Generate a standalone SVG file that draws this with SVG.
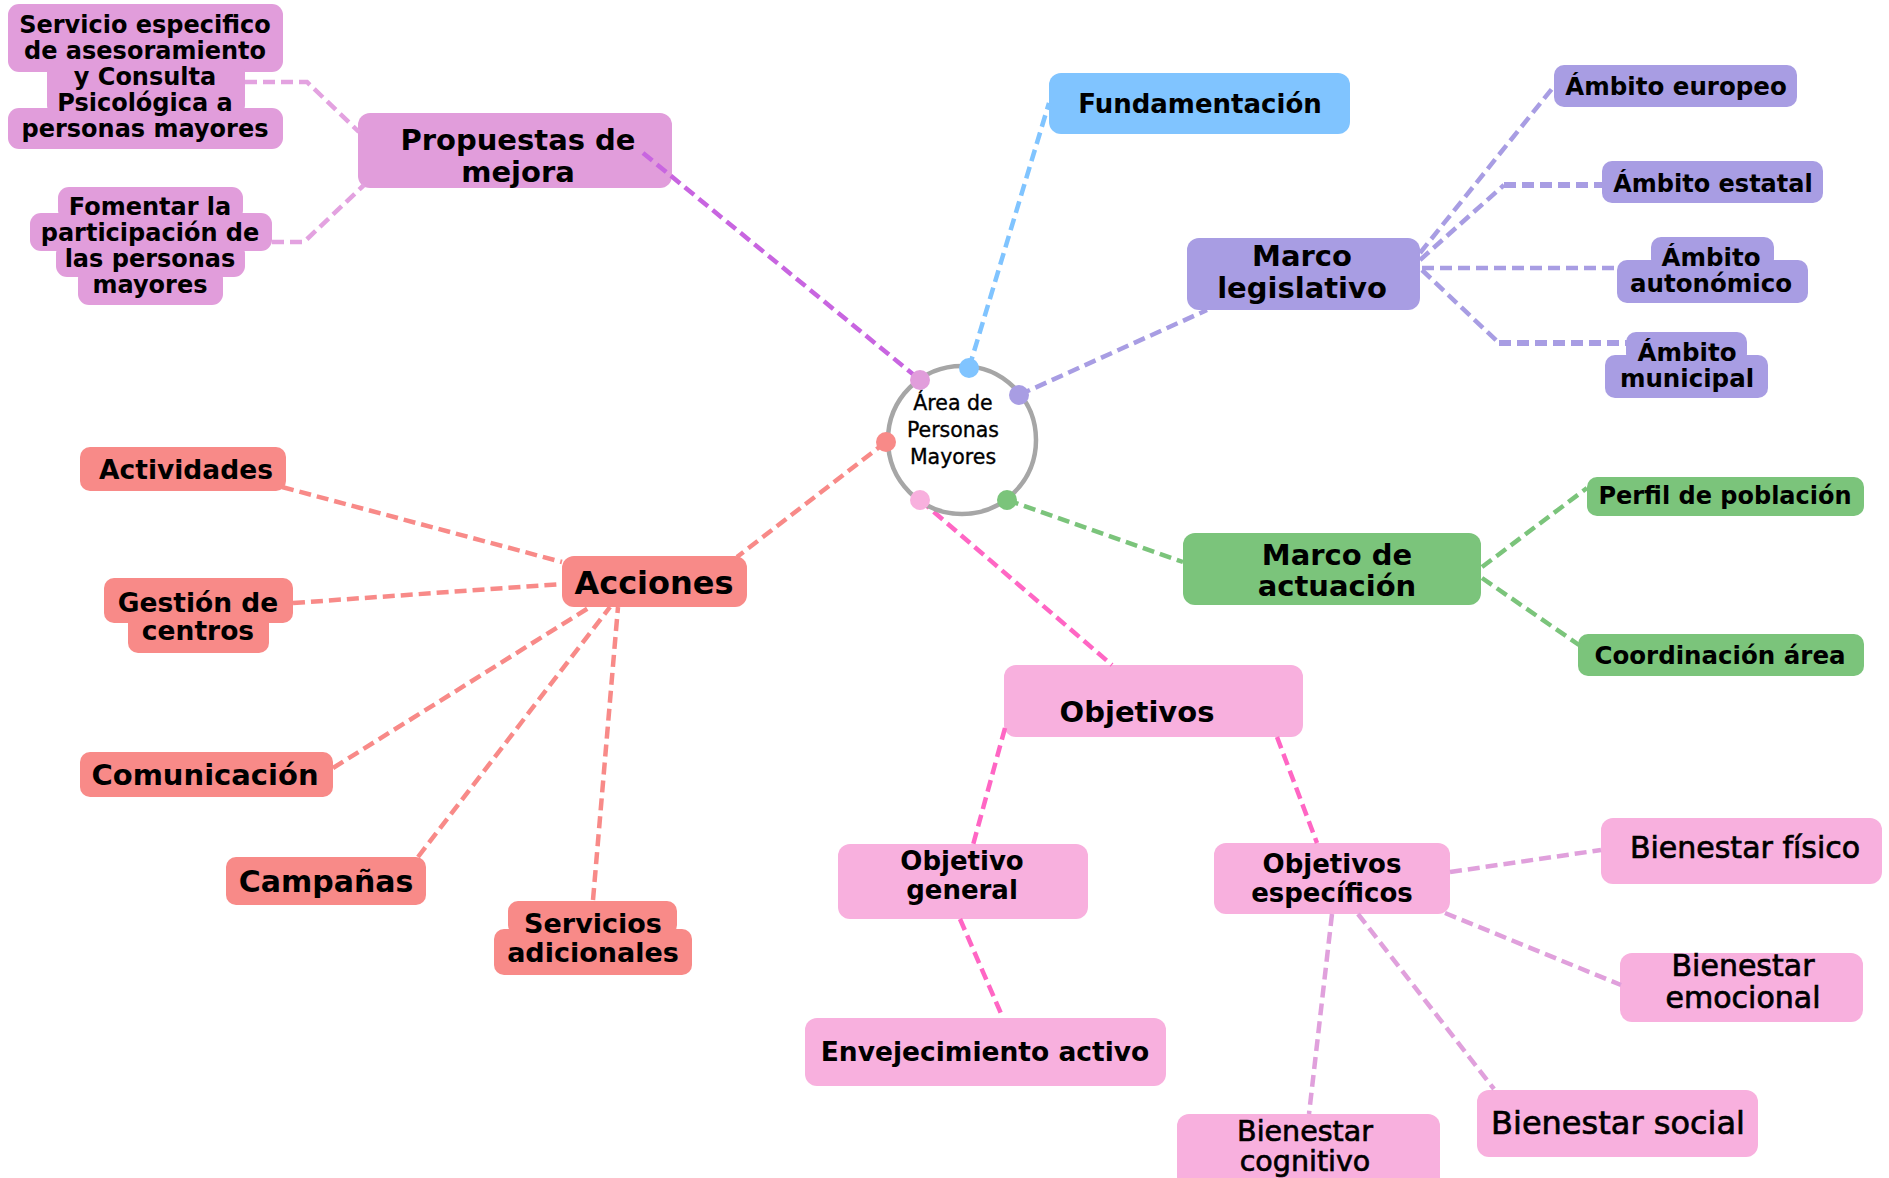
<svg xmlns="http://www.w3.org/2000/svg" width="1889" height="1178" viewBox="0 0 1889 1178">
<style>
text{font-family:"DejaVu Sans","Liberation Sans",sans-serif;font-weight:bold;fill:#000;text-anchor:middle}
text.md{font-weight:normal;stroke:#000;stroke-width:0.7}
text.ct{font-weight:normal;font-size:20.5px;stroke:#000;stroke-width:0.35}
.c{fill:none;stroke-width:4.5;stroke-dasharray:12 6}
.th{stroke-width:6}
.orc{fill:#e19ddb}.blu{fill:#80c4ff}.pur{fill:#a89de3}.grn{fill:#7bc47b}.red{fill:#f88a88}.pnk{fill:#f8b0de}
.lorc{stroke:#e3a2e0}.lblu{stroke:#80c4ff}.lpur{stroke:#a89de3}.lgrn{stroke:#7bc47b}.lred{stroke:#f88a88}.lhot{stroke:#ff66c4}.lvio{stroke:#c865e0}.lbie{stroke:#e0a0dc}
</style>
<rect width="1889" height="1178" fill="#fff"/>

<g id="node-propuestas">
<rect class="orc" x="358" y="113" width="314" height="75" rx="12"/>
<text x="518" y="150" font-size="29">Propuestas de</text>
<text x="518" y="182" font-size="29">mejora</text>
</g>
<g id="node-servicio">
<rect class="orc" x="8" y="4" width="275" height="68" rx="11"/>
<rect class="orc" x="47" y="60" width="198" height="56" rx="11"/>
<rect class="orc" x="8" y="108" width="275" height="41" rx="11"/>
<text x="145" y="33" font-size="24">Servicio especifico</text>
<text x="145" y="59" font-size="24">de asesoramiento</text>
<text x="145" y="85" font-size="24">y Consulta</text>
<text x="145" y="111" font-size="24">Psicológica a</text>
<text x="145" y="137" font-size="24">personas mayores</text>
</g>
<g id="node-fomentar">
<rect class="orc" x="58" y="187" width="185" height="34" rx="11"/>
<rect class="orc" x="30" y="213" width="242" height="38" rx="11"/>
<rect class="orc" x="56" y="243" width="189" height="34" rx="11"/>
<rect class="orc" x="78" y="268" width="145" height="37" rx="11"/>
<text x="150" y="215" font-size="24">Fomentar la</text>
<text x="150" y="241" font-size="24">participación de</text>
<text x="150" y="267" font-size="24">las personas</text>
<text x="150" y="293" font-size="24">mayores</text>
</g>
<g id="node-fundamentacion">
<rect class="blu" x="1049" y="73" width="301" height="61" rx="12"/>
<text x="1200" y="113" font-size="26">Fundamentación</text>
</g>
<g id="node-marco-legislativo">
<rect class="pur" x="1187" y="238" width="233" height="72" rx="12"/>
<text x="1302" y="266" font-size="29">Marco</text>
<text x="1302" y="298" font-size="29">legislativo</text>
</g>
<g id="node-ambito-europeo">
<rect class="pur" x="1554" y="65" width="243" height="42" rx="10"/>
<text x="1676" y="95" font-size="24.5">Ámbito europeo</text>
</g>
<g id="node-ambito-estatal">
<rect class="pur" x="1602" y="161" width="221" height="42" rx="10"/>
<text x="1713" y="192" font-size="24">Ámbito estatal</text>
</g>
<g id="node-ambito-autonomico">
<rect class="pur" x="1651" y="237" width="123" height="32" rx="10"/>
<rect class="pur" x="1617" y="260" width="191" height="43" rx="10"/>
<text x="1711" y="266" font-size="24.5">Ámbito</text>
<text x="1711" y="292" font-size="24.5">autonómico</text>
</g>
<g id="node-ambito-municipal">
<rect class="pur" x="1626" y="332" width="121" height="32" rx="10"/>
<rect class="pur" x="1605" y="355" width="163" height="43" rx="10"/>
<text x="1687" y="361" font-size="24.5">Ámbito</text>
<text x="1687" y="387" font-size="24.5">municipal</text>
</g>
<g id="node-marco-actuacion">
<rect class="grn" x="1183" y="533" width="298" height="72" rx="12"/>
<text x="1337" y="565" font-size="29">Marco de</text>
<text x="1337" y="596" font-size="29">actuación</text>
</g>
<g id="node-perfil">
<rect class="grn" x="1587" y="477" width="277" height="39" rx="10"/>
<text x="1725" y="504" font-size="24">Perfil de población</text>
</g>
<g id="node-coordinacion">
<rect class="grn" x="1578" y="634" width="286" height="42" rx="10"/>
<text x="1720" y="664" font-size="24.5">Coordinación área</text>
</g>
<g id="node-objetivos">
<rect class="pnk" x="1004" y="665" width="299" height="72" rx="12"/>
<text x="1137" y="722" font-size="29">Objetivos</text>
</g>
<g id="node-objetivo-general">
<rect class="pnk" x="838" y="844" width="250" height="75" rx="12"/>
<text x="962" y="870" font-size="26">Objetivo</text>
<text x="962" y="899" font-size="26">general</text>
</g>
<g id="node-envejecimiento">
<rect class="pnk" x="805" y="1018" width="361" height="68" rx="12"/>
<text x="985" y="1061" font-size="26.5">Envejecimiento activo</text>
</g>
<g id="node-objetivos-especificos">
<rect class="pnk" x="1214" y="843" width="236" height="71" rx="12"/>
<text x="1332" y="873" font-size="26">Objetivos</text>
<text x="1332" y="902" font-size="26">específicos</text>
</g>
<g id="node-bienestar-fisico">
<rect class="pnk" x="1601" y="818" width="281" height="66" rx="12"/>
<text class="md" x="1745" y="858" font-size="30">Bienestar físico</text>
</g>
<g id="node-bienestar-emocional">
<rect class="pnk" x="1620" y="953" width="243" height="69" rx="12"/>
<text class="md" x="1743" y="976" font-size="30">Bienestar</text>
<text class="md" x="1743" y="1008" font-size="30">emocional</text>
</g>
<g id="node-bienestar-social">
<rect class="pnk" x="1477" y="1090" width="281" height="67" rx="12"/>
<text class="md" x="1618" y="1134" font-size="32">Bienestar social</text>
</g>
<g id="node-bienestar-cognitivo">
<rect class="pnk" x="1177" y="1114" width="263" height="80" rx="12"/>
<text class="md" x="1305" y="1141" font-size="28.5">Bienestar</text>
<text class="md" x="1305" y="1171" font-size="28.5">cognitivo</text>
</g>
<g id="node-acciones">
<rect class="red" x="562" y="556" width="185" height="51" rx="12"/>
<text x="654" y="594" font-size="32">Acciones</text>
</g>
<g id="node-actividades">
<rect class="red" x="80" y="447" width="206" height="44" rx="10"/>
<text x="186" y="479" font-size="26.5">Actividades</text>
</g>
<g id="node-gestion">
<rect class="red" x="104" y="578" width="189" height="45" rx="10"/>
<rect class="red" x="128" y="612" width="141" height="41" rx="10"/>
<text x="198" y="612" font-size="26.5">Gestión de</text>
<text x="198" y="640" font-size="26.5">centros</text>
</g>
<g id="node-comunicacion">
<rect class="red" x="80" y="752" width="253" height="45" rx="10"/>
<text x="205" y="785" font-size="29">Comunicación</text>
</g>
<g id="node-campanas">
<rect class="red" x="226" y="857" width="200" height="48" rx="10"/>
<text x="326" y="892" font-size="30">Campañas</text>
</g>
<g id="node-servicios-adicionales">
<rect class="red" x="508" y="901" width="169" height="34" rx="10"/>
<rect class="red" x="494" y="929" width="198" height="46" rx="10"/>
<text x="593" y="933" font-size="27">Servicios</text>
<text x="593" y="962" font-size="27">adicionales</text>
</g>

<g id="connectors">
<line class="c lvio" x1="643" y1="153" x2="920" y2="380"/>
<line class="c lblu" x1="969" y1="368" x2="1049" y2="103"/>
<line class="c lpur" x1="1019" y1="395" x2="1207" y2="310"/>
<line class="c lgrn" x1="1007" y1="500" x2="1183" y2="562"/>
<line class="c lhot" x1="920" y1="500" x2="1112" y2="665"/>
<line class="c lred" x1="886" y1="442" x2="737" y2="557"/>
<polyline class="c lorc" points="245,82 307,82 359,132"/>
<polyline class="c lorc" points="272,242 304,242 364,185"/>
<line class="c lpur" x1="1420" y1="253" x2="1555" y2="85"/>
<line class="c lpur" x1="1420" y1="260" x2="1504" y2="185"/>
<line class="c lpur th" x1="1504" y1="185" x2="1602" y2="185"/>
<line class="c lpur" x1="1422" y1="268" x2="1617" y2="268"/>
<line class="c lpur" x1="1422" y1="270" x2="1499" y2="343"/>
<line class="c lpur th" x1="1499" y1="343" x2="1627" y2="343"/>
<line class="c lgrn" x1="1482" y1="567" x2="1587" y2="488"/>
<line class="c lgrn" x1="1482" y1="578" x2="1579" y2="645"/>
<line class="c lred" x1="282" y1="487" x2="562" y2="562"/>
<line class="c lred" x1="293" y1="603" x2="562" y2="584"/>
<line class="c lred" x1="333" y1="768" x2="590" y2="607"/>
<line class="c lred" x1="418" y1="857" x2="610" y2="607"/>
<line class="c lred" x1="593" y1="900" x2="618" y2="607"/>
<line class="c lhot" x1="1005" y1="728" x2="973" y2="845"/>
<line class="c lhot" x1="960" y1="919" x2="1003" y2="1018"/>
<line class="c lhot" x1="1277" y1="737" x2="1317" y2="843"/>
<line class="c lbie" x1="1450" y1="872" x2="1601" y2="850"/>
<line class="c lbie" x1="1445" y1="913" x2="1621" y2="985"/>
<line class="c lbie" x1="1358" y1="914" x2="1494" y2="1089"/>
<line class="c lbie" x1="1332" y1="914" x2="1309" y2="1114"/>
</g>

<g id="node-center">
<circle cx="962" cy="440" r="74" fill="#fff" stroke="#a6a6a6" stroke-width="4.5"/>
<text class="ct" x="953" y="410">Área de</text>
<text class="ct" x="953" y="437">Personas</text>
<text class="ct" x="953" y="464">Mayores</text>
<circle cx="920" cy="380" r="10" fill="#e19ddb"/>
<circle cx="969" cy="368" r="10" fill="#80c4ff"/>
<circle cx="1019" cy="395" r="10" fill="#a89de3"/>
<circle cx="886" cy="442" r="10" fill="#f88a88"/>
<circle cx="920" cy="500" r="10" fill="#f8b0de"/>
<circle cx="1007" cy="500" r="10" fill="#7bc47b"/>
</g>
</svg>
